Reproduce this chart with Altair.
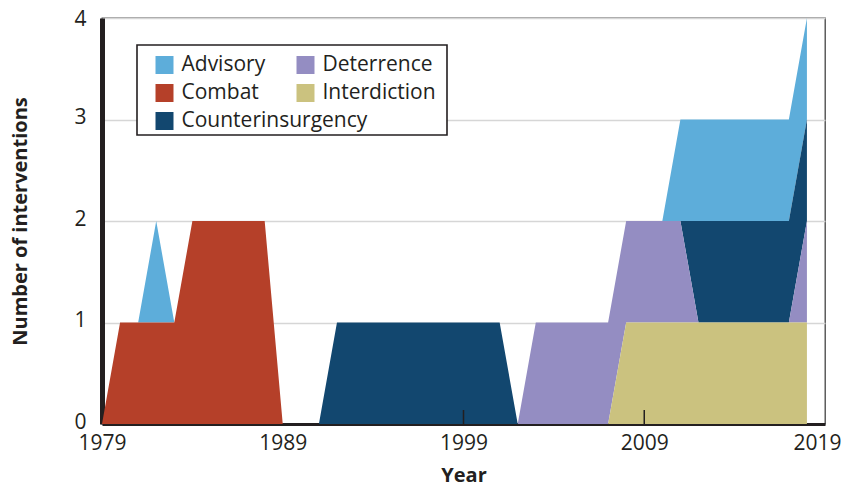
import altair as alt
import pandas as pd

# ---- data ----
years = list(range(1979, 2019))

advisory = [0, 0, 0, 1, 0, 0, 0, 0, 0, 0,
            0, 0, 0, 0, 0, 0, 0, 0, 0, 0,
            0, 0, 0, 0, 0, 0, 0, 0, 0, 0,
            0, 0, 1, 1, 1, 1, 1, 1, 1, 1]
combat = [0, 1, 1, 1, 1, 2, 2, 2, 2, 2,
          0, 0, 0, 0, 0, 0, 0, 0, 0, 0,
          0, 0, 0, 0, 0, 0, 0, 0, 0, 0,
          0, 0, 0, 0, 0, 0, 0, 0, 0, 0]
counterinsurgency = [0, 0, 0, 0, 0, 0, 0, 0, 0, 0,
                     0, 0, 0, 1, 1, 1, 1, 1, 1, 1,
                     1, 1, 1, 0, 0, 0, 0, 0, 0, 0,
                     0, 0, 0, 1, 1, 1, 1, 1, 1, 1]
deterrence = [0, 0, 0, 0, 0, 0, 0, 0, 0, 0,
              0, 0, 0, 0, 0, 0, 0, 0, 0, 0,
              0, 0, 0, 0, 1, 1, 1, 1, 1, 1,
              1, 1, 1, 0, 0, 0, 0, 0, 0, 1]
interdiction = [0, 0, 0, 0, 0, 0, 0, 0, 0, 0,
                0, 0, 0, 0, 0, 0, 0, 0, 0, 0,
                0, 0, 0, 0, 0, 0, 0, 0, 0, 1,
                1, 1, 1, 1, 1, 1, 1, 1, 1, 1]

series_names = ["Advisory", "Combat", "Counterinsurgency", "Deterrence", "Interdiction"]
series_values = [advisory, combat, counterinsurgency, deterrence, interdiction]
series_colors = ["#5dadda", "#b54029", "#12476f", "#948dc2", "#cbc27f"]
# stacking order, bottom to top
stack_order = ["Interdiction", "Combat", "Deterrence", "Counterinsurgency", "Advisory"]
legend_col1 = ["Advisory", "Combat", "Counterinsurgency"]
legend_col2 = ["Deterrence", "Interdiction"]

x_labels = [1979, 1989, 1999, 2009, 2019]
y_labels = [0, 1, 2, 3, 4]
inner_ticks = [1999, 2009]

rows = []
for name, vals in zip(series_names, series_values):
    for yr, v in zip(years, vals):
        rows.append({"year": yr, "count": v, "type": name, "rank": stack_order.index(name)})
df = pd.DataFrame(rows)

color_of = dict(zip(series_names, series_colors))

W, H = 723, 406
FONT = "Open Sans"
DARK = "#231f20"

common_legend = dict(title=None, orient="none", direction="vertical", rowPadding=6,
                     symbolType="square", symbolSize=324, symbolStrokeWidth=0,
                     symbolOpacity=1, labelFont=FONT, labelFontSize=21, labelColor=DARK,
                     labelOffset=6.5, labelLimit=400, padding=0,
                     strokeColor="transparent", fillColor="transparent")

area = alt.Chart(df).mark_area(interpolate="linear", opacity=1).encode(
    x=alt.X("year:Q",
            scale=alt.Scale(domain=[1979, 2019], nice=False, zero=False),
            axis=alt.Axis(values=x_labels, format="d", title="Year", grid=False,
                          ticks=False, tickSize=0, labelPadding=8, labelFlush=False,
                          labelOffset={"condition": {"test": "datum.value == 2019", "value": -8},
                                       "value": 0},
                          domainColor=DARK, domainWidth=3,
                          titleY=57, titleBaseline="alphabetic")),
    y=alt.Y("count:Q", stack="zero",
            scale=alt.Scale(domain=[0, 4], nice=False),
            axis=alt.Axis(values=y_labels, format="d", title="Number of interventions",
                          ticks=False, tickSize=0, labelPadding=16,
                          labelOffset={"condition": {"test": "datum.value == 4", "value": 1},
                                       "value": -2},
                          domainColor=DARK, domainWidth=5,
                          grid=True, gridColor="#d6d6d6", gridWidth=1.5,
                          titleX=-82, titleY=203, titleAngle=270,
                          titleAlign="center", titleBaseline="middle")),
    color=alt.Color("type:N",
                    scale=alt.Scale(domain=series_names, range=series_colors),
                    legend=alt.Legend(values=legend_col1, legendX=52, legendY=36.5,
                                      **common_legend)),
    order=alt.Order("rank:Q"),
)

# frame around the legend (drawn above the gridlines, below the legends)
legend_box = alt.Chart(pd.DataFrame({"k": [0]})).mark_rect(
    fill="white", stroke=DARK, strokeWidth=1.6
).encode(
    x=alt.value(35), x2=alt.value(345), y=alt.value(27), y2=alt.value(117)
)

# second legend column (Deterrence / Interdiction) through a separate fill scale
df2 = pd.DataFrame({"type2": legend_col2, "year": [1979, 1979], "count": [0, 0]})
legend2 = alt.Chart(df2).mark_square(opacity=0, size=0).encode(
    x="year:Q",
    y="count:Q",
    fill=alt.Fill("type2:N",
                  scale=alt.Scale(domain=legend_col2, range=[color_of[n] for n in legend_col2]),
                  legend=alt.Legend(legendX=193, legendY=36.5, **common_legend)),
)

ticks = alt.Chart(pd.DataFrame({"year": inner_ticks})).mark_rule(
    color=DARK, strokeWidth=1.5
).encode(
    x="year:Q",
    y=alt.value(H - 14),
    y2=alt.value(H),
)

chart = alt.layer(area, legend_box, legend2, ticks).properties(
    width=W, height=H,
    padding={"left": 94, "top": 10, "right": 16, "bottom": 63},
    autosize=alt.AutoSizeParams(type="none"),
).configure_view(
    stroke="#444444", strokeWidth=1.3
).configure_axis(
    labelFont=FONT, labelFontSize=21, labelColor=DARK,
    titleFont=FONT, titleFontSize=20, titleFontWeight="bold", titleColor=DARK,
)

chart.save("out.html", embed_options={"renderer": "svg", "actions": False})
